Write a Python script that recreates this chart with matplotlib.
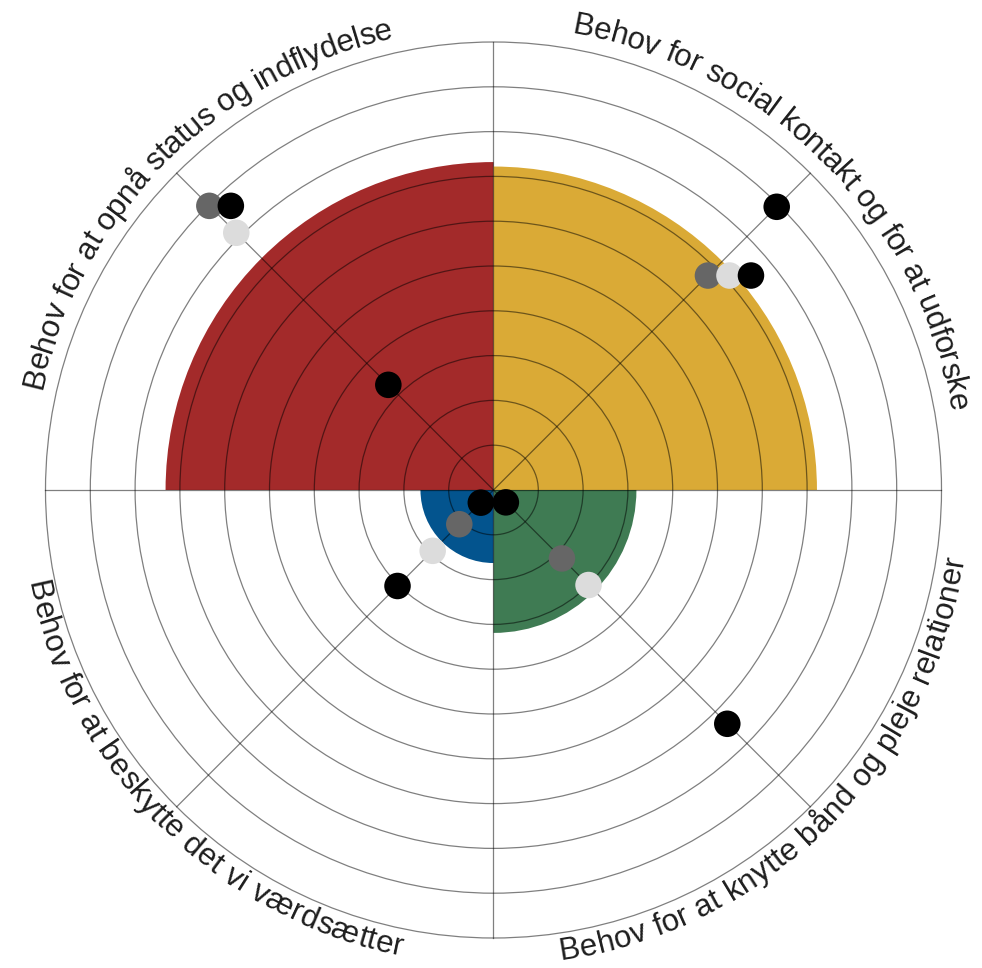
import numpy as np
import matplotlib
matplotlib.use("Agg")
import matplotlib.pyplot as plt
from matplotlib.patches import Wedge, Circle
from matplotlib.font_manager import FontProperties, findfont, fontManager
from matplotlib.ft2font import FT2Font

# ---------------- data ----------------
categories = [
    "Behov for at opnå status og indflydelse",
    "Behov for social kontakt og for at udforske",
    "Behov for at knytte bånd og pleje relationer",
    "Behov for at beskytte det vi værdsætter",
]
category_angles = [135, 45, 315, 225]          # direction of each category axis
label_upper = [True, True, False, False]       # text reads clockwise (tops outward)

wedge_values = [7.32, 7.22, 3.19, 1.63]
wedge_colors = ["#A32A2A", "#DAAA36", "#3F7B53", "#03548E"]

dark_gray = [8.97, 6.77, 2.16, 1.08]
light_gray = [8.12, 6.77, 3.00, 1.92]
black_inner = [3.32, 6.77, 0.39, 0.40]
black_outer = [8.97, 8.94, 7.38, 3.03]

# horizontal dodge steps used to separate coinciding dots
dodge_dark = [0, 0, 0, 0]
dodge_light = [0, 1, 0, 0]
dodge_black_inner = [0, 2, 0, 0]
dodge_black_outer = [1, 0, 0, 0]

n_rings = 10

# ---------------- layout ----------------
W, H, DPI = 982, 968, 100
PX = 44.8            # pixels per unit
CX, CY = 493.5, 490  # centre in pixels (from top-left)
DODGE = 0.48

fig = plt.figure(figsize=(W / DPI, H / DPI), dpi=DPI)
ax = fig.add_axes([0, 0, 1, 1])
ax.set_xlim(-CX / PX, (W - CX) / PX)
ax.set_ylim(-(H - CY) / PX, CY / PX)
ax.axis("off")

# wedges
for ang, val, col in zip(category_angles, wedge_values, wedge_colors):
    ax.add_patch(Wedge((0, 0), val, ang - 45, ang + 45, facecolor=col,
                       edgecolor="none", zorder=1))

# grid rings
line_kw = dict(color="black", alpha=0.5, lw=0.9, zorder=2)
for r in range(1, n_rings + 1):
    ax.add_patch(Circle((0, 0), r, fill=False, edgecolor="black", alpha=0.5,
                        lw=0.9, zorder=2))
# spokes
for a in [0, 45, 90, 135]:
    t = np.deg2rad(a)
    ax.plot([-n_rings * np.cos(t), n_rings * np.cos(t)],
            [-n_rings * np.sin(t), n_rings * np.sin(t)], **line_kw)

# dots
def draw_dots(values, dodges, color):
    th = np.deg2rad(category_angles)
    v = np.array(values)
    x = v * np.cos(th) + np.array(dodges) * DODGE
    y = v * np.sin(th)
    ax.scatter(x, y, s=365, color=color, edgecolors="none", zorder=3)

draw_dots(dark_gray, dodge_dark, "#666666")
draw_dots(light_gray, dodge_light, "#DCDCDC")
draw_dots(black_inner, dodge_black_inner, "#000000")
draw_dots(black_outer, dodge_black_outer, "#000000")

# curved labels
FS = 22.5
font_path = None
for f in fontManager.ttflist:
    if f.fname.endswith("LiberationSans-Regular.ttf"):
        font_path = f.fname
        break
if font_path is None:
    font_path = findfont(FontProperties(family="Liberation Sans"))
fp = FontProperties(fname=font_path, size=FS)
font = FT2Font(font_path)
font.set_size(FS, DPI)

def advances(s):
    out = []
    for ch in s:
        g = font.load_char(ord(ch))
        out.append(g.linearHoriAdvance / 65536)
    return out

def curved_text(text, center_deg, upper):
    adv = advances(text)
    total = sum(adv)
    r_base = 10.34 if upper else 10.6
    r_path = (r_base + 0.25) if upper else (r_base - 0.27)
    r_px = r_path * PX
    pos = 0.0
    for ch, a in zip(text, adv):
        s = pos + a / 2 - total / 2
        pos += a
        if ch == " ":
            continue
        off = np.rad2deg(s / r_px)
        if upper:
            th = center_deg - off
            rot = th - 90
        else:
            th = center_deg + off
            rot = th + 90
        t = np.deg2rad(th)
        ax.text(r_base * np.cos(t), r_base * np.sin(t), ch, fontproperties=fp,
                color="#1E1E1E", ha="center", va="baseline", rotation=rot,
                rotation_mode="anchor", zorder=4)

for lab, ang, up in zip(categories, category_angles, label_upper):
    curved_text(lab, ang, up)

fig.savefig("out.png", dpi=DPI)
